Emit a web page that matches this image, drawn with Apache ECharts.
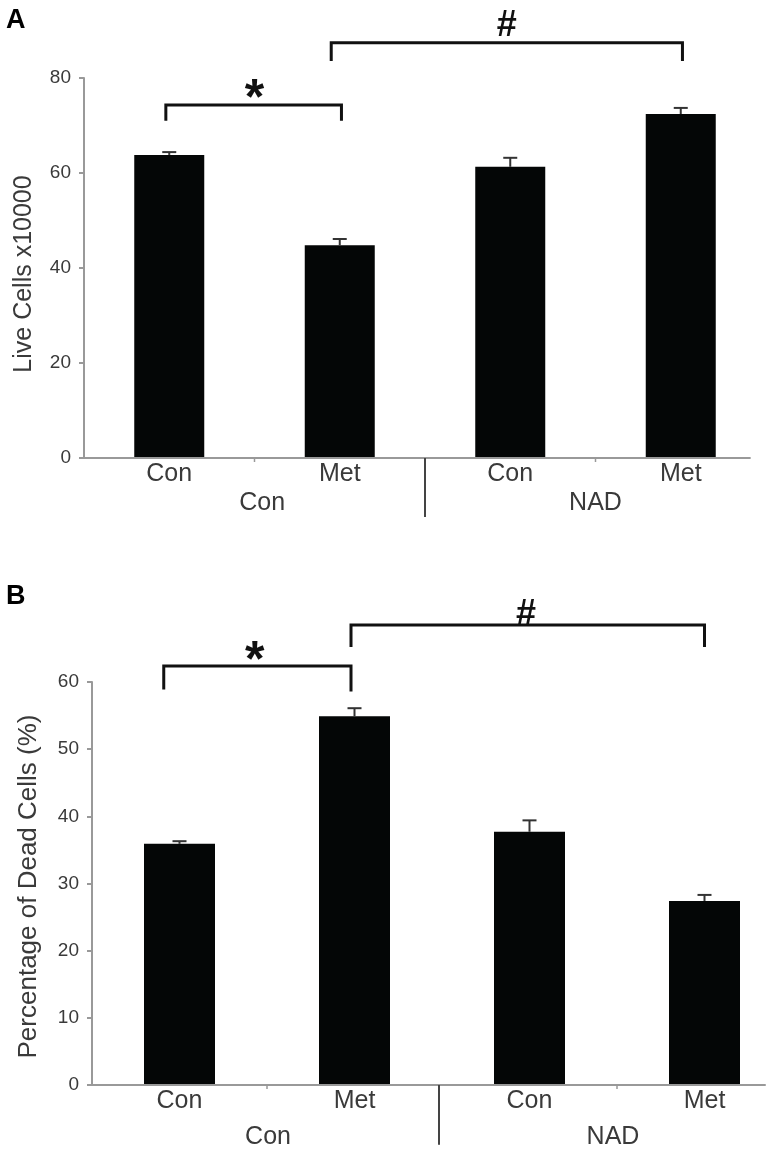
<!DOCTYPE html>
<html><head><meta charset="utf-8">
<script src="https://cdn.jsdelivr.net/npm/echarts@6/dist/echarts.min.js"></script>
<style>html,body{margin:0;padding:0;background:#fff}#c{width:768px;height:1150px;filter:blur(0.5px)}</style>
</head><body><div id="c"></div>
<script>
const categories = ['Con','Met','Con','Met'];
const liveCells = [63.8, 44.8, 61.3, 72.4];
const liveCellsErrTop = [64.4, 46.1, 63.2, 73.7];
const deadCells = [35.9, 54.9, 37.7, 27.4];
const deadCellsErrTop = [36.3, 56.1, 39.4, 28.3];
const liveTicks = {min:0, max:80, interval:20};
const deadTicks = {min:0, max:60, interval:10};
const liveTitle = 'Live Cells x10000';
const deadTitle = 'Percentage of Dead Cells (%)';
const groupLabels = ['Con','NAD'];

const FONT = '"Liberation Sans", Arial, sans-serif';
const BAR = '#040606', AXIS = '#999999', TEXT = '#3a3a3a', INK = '#111111';

const panels = [
 {name:liveTitle, vals:liveCells, errs:liveCellsErrTop, ticks:liveTicks,
  top:78, left:84, width:682, height:380, barW:70, nameGap:47, nameSize:25, namePad:12,
  axisEnd:3.41, divX:1.5, divBottom:-12.4, groupY:-9.5, groupX:[0.545,2.5],
  brackets:[[-0.02,1.01,74.3,71,71],[0.95,3.01,87.4,83.6,83.6]],
  star:[0.5,75.4], hash:[1.98,91]},
 {name:deadTitle, vals:deadCells, errs:deadCellsErrTop, ticks:deadTicks,
  top:682, left:92, width:700, height:403, barW:71, nameGap:50, nameSize:26, namePad:6,
  axisEnd:3.35, divX:1.483, divBottom:-8.9, groupY:-7.75, groupX:[0.506,2.477],
  brackets:[[-0.09,0.98,62.4,58.9,58.6],[0.98,3.0,68.5,65.2,65.2]],
  star:[0.43,63], hash:[1.98,70]}
];

const grid=[],xAxis=[],yAxis=[],series=[];
panels.forEach((p,i)=>{
  grid.push({left:p.left,top:p.top,width:p.width,height:p.height,containLabel:false,outerBoundsMode:'none'});
  xAxis.push({type:'category',gridIndex:i,data:categories,boundaryGap:true,
    axisLine:{show:false},axisTick:{show:false},
    axisLabel:{color:TEXT,fontFamily:FONT,fontSize:25,margin:4,interval:0,hideOverlap:false}});
  xAxis.push({type:'value',gridIndex:i,min:-0.5,max:3.5,show:false});
  yAxis.push({type:'value',gridIndex:i,min:p.ticks.min,max:p.ticks.max,interval:p.ticks.interval,
    name:p.name,nameLocation:'middle',nameGap:p.nameGap,nameRotate:90,
    nameTextStyle:{color:TEXT,fontFamily:FONT,fontSize:p.nameSize,padding:[0,p.namePad,0,0]},
    splitLine:{show:false},
    axisLine:{show:true,onZero:false,lineStyle:{color:AXIS,width:2}},
    axisTick:{show:true,length:5,lineStyle:{color:AXIS,width:2}},
    axisLabel:{color:TEXT,fontFamily:FONT,fontSize:19,margin:13}});
  const catIdx=i*2, valIdx=i*2+1;
  series.push({type:'bar',xAxisIndex:catIdx,yAxisIndex:i,data:p.vals,barWidth:p.barW,
    itemStyle:{color:BAR},silent:true,z:3});
  series.push({type:'custom',xAxisIndex:valIdx,yAxisIndex:i,data:[[0,0]],encode:{x:0,y:1},silent:true,z:4,clip:false,
    renderItem:(params,api)=>{
      const pt=(x,y)=>api.coord([x,y]);
      const line=(a,b,color,width)=>({type:'line',shape:{x1:a[0],y1:a[1],x2:b[0],y2:b[1]},style:{stroke:color,lineWidth:width}});
      const poly=(pts,color,width)=>({type:'polyline',shape:{points:pts},style:{stroke:color,lineWidth:width,fill:null,lineJoin:'miter'}});
      const txt=(a,s,size,weight,color)=>({type:'text',style:{text:s,x:a[0],y:a[1],fill:color,align:'center',verticalAlign:'middle',
        font:`${weight} ${size}px ${FONT}`}});
      const kids=[];
      // x axis line and between-category ticks
      kids.push(line(pt(-0.5,0),pt(p.axisEnd,0),AXIS,2));
      [0.5,2.5].forEach(x=>{const a=pt(x,0);kids.push(line(a,[a[0],a[1]+4],AXIS,1.5));});
      // group divider
      kids.push(line(pt(p.divX,0),pt(p.divX,p.divBottom),'#444444',2));
      // group labels
      groupLabels.forEach((s,k)=>kids.push(txt(pt(p.groupX[k],p.groupY),s,25,'normal',TEXT)));
      // error bars
      p.vals.forEach((v,k)=>{
        const a=pt(k,v),b=pt(k,p.errs[k]);
        kids.push(line(a,b,'#333333',2));
        kids.push(line([b[0]-7,b[1]],[b[0]+7,b[1]],'#333333',2));
      });
      // significance brackets
      p.brackets.forEach(b=>{
        kids.push(poly([pt(b[0],b[3]),pt(b[0],b[2]),pt(b[1],b[2]),pt(b[1],b[4])],INK,3));
      });
      kids.push(txt(pt(p.star[0],p.star[1]),'*',50,'bold',INK));
      kids.push(txt(pt(p.hash[0],p.hash[1]),'#',36,'bold',INK));
      return {type:'group',children:kids};
    }});
});

const chart=echarts.init(document.getElementById('c'),null,{renderer:'canvas',width:768,height:1150});
chart.setOption({
  animation:false,backgroundColor:'#ffffff',
  title:[
    {text:'A',left:1,top:2,textStyle:{fontFamily:FONT,fontSize:27,fontWeight:'bold',color:'#000'}},
    {text:'B',left:1,top:578,textStyle:{fontFamily:FONT,fontSize:27,fontWeight:'bold',color:'#000'}}
  ],
  grid,xAxis,yAxis,series
});
</script></body></html>
